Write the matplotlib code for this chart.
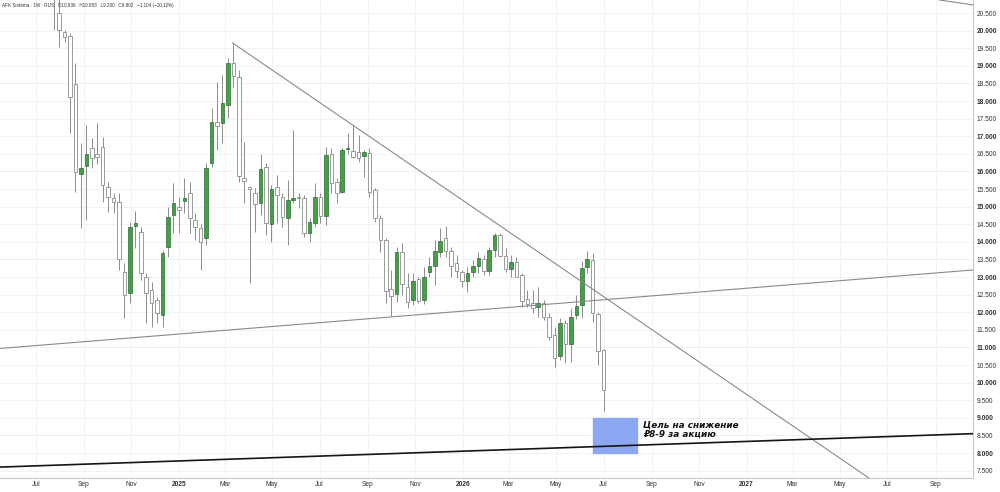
import matplotlib
matplotlib.use('Agg')
import matplotlib.pyplot as plt
import matplotlib.dates as mdates
from matplotlib.patches import Rectangle
import numpy as np
import pandas as pd

# weekly candles, AFK Sistema (1W)
first_week = '2024-07-24'
opens = [21.60, 20.49, 19.97, 19.85, 18.48, 15.93, 16.16, 16.67, 16.49, 16.70,
         15.57, 15.24, 15.14, 13.15, 12.54, 14.45, 14.28, 13.01, 12.63, 12.35,
         11.92, 13.86, 14.76, 14.99, 15.16, 15.39, 14.62, 14.38, 14.10, 16.23,
         17.41, 17.37, 17.89, 19.09, 18.69, 15.80, 15.57, 15.39, 15.09, 16.12,
         14.50, 15.57, 15.28, 14.67, 15.19, 15.28, 15.25, 14.26, 14.54, 15.28,
         14.73, 16.49, 15.71, 15.42, 16.63, 16.59, 16.56, 16.44, 16.51, 15.47,
         14.67, 14.05, 12.65, 12.52, 13.72, 12.71, 12.35, 12.93, 12.35, 13.15,
         13.31, 13.72, 14.10, 13.74, 13.41, 13.15, 12.90, 13.15, 13.31, 13.50,
         13.18, 13.77, 14.19, 13.60, 13.22, 13.43, 13.06, 12.37, 12.25, 12.14,
         12.27, 11.87, 11.35, 10.76, 11.68, 11.10, 11.92, 12.21, 13.29, 13.48,
         11.95, 10.936]
highs = [21.80, 21.20, 20.02, 19.93, 19.08, 16.81, 17.32, 16.95, 17.38, 16.99,
         15.71, 15.39, 15.39, 13.40, 14.57, 14.88, 14.43, 13.11, 12.87, 12.44,
         13.77, 15.00, 15.66, 15.28, 15.80, 15.71, 14.81, 14.52, 16.23, 17.79,
         18.55, 18.74, 19.21, 19.64, 18.88, 16.84, 15.59, 15.53, 16.49, 16.24,
         15.61, 15.90, 15.38, 15.76, 17.18, 15.38, 15.33, 14.67, 15.66, 15.38,
         16.70, 16.66, 15.80, 16.66, 17.08, 17.32, 17.03, 16.61, 16.66, 15.52,
         14.76, 14.10, 13.20, 13.86, 13.96, 13.11, 13.10, 13.01, 13.29, 13.58,
         14.05, 14.38, 14.45, 13.86, 13.62, 13.20, 13.29, 13.48, 13.72, 13.62,
         13.86, 14.24, 14.24, 13.82, 13.62, 13.58, 13.11, 12.63, 12.63, 12.72,
         12.35, 11.97, 11.59, 11.83, 11.78, 12.11, 12.50, 13.45, 13.73, 13.69,
         12.01, 10.953]
lows = [20.02, 19.53, 19.68, 17.09, 15.42, 14.39, 14.62, 16.10, 16.20, 15.14,
        14.86, 14.82, 13.20, 11.84, 12.26, 13.82, 12.92, 11.69, 11.59, 11.68,
        11.59, 13.58, 14.24, 14.24, 14.81, 14.24, 14.05, 13.20, 13.91, 16.13,
        16.61, 16.80, 17.51, 18.41, 15.70, 15.10, 12.82, 14.29, 14.76, 14.19,
        14.00, 14.53, 14.43, 13.91, 15.09, 14.95, 14.14, 14.00, 14.43, 14.53,
        14.48, 15.38, 15.09, 15.38, 16.50, 16.38, 16.28, 15.85, 15.28, 14.57,
        13.72, 12.25, 11.89, 12.30, 12.49, 12.11, 12.20, 12.25, 12.23, 13.01,
        12.77, 13.58, 13.58, 13.01, 12.96, 12.72, 12.58, 13.01, 13.11, 13.06,
        13.06, 13.58, 13.58, 13.15, 13.01, 13.01, 12.16, 12.16, 11.97, 11.87,
        11.78, 11.21, 10.45, 10.64, 10.55, 10.59, 11.80, 11.84, 13.10, 11.73,
        10.50, 9.200]
closes = [21.00, 20.02, 19.81, 18.12, 15.99, 16.09, 16.49, 16.39, 16.41, 15.61,
          15.28, 15.14, 13.50, 12.49, 14.43, 14.53, 13.11, 12.54, 12.25, 11.97,
          13.68, 14.71, 15.10, 14.90, 15.24, 14.67, 14.43, 14.00, 16.09, 17.41,
          17.29, 17.93, 19.09, 18.71, 15.87, 15.74, 15.49, 15.07, 16.06, 14.53,
          15.49, 15.33, 14.71, 15.19, 15.25, 15.25, 14.24, 14.57, 15.28, 14.73,
          16.47, 15.66, 15.40, 16.61, 16.66, 16.42, 16.37, 16.56, 15.42, 14.67,
          14.04, 12.61, 12.46, 13.71, 12.79, 12.30, 12.90, 12.32, 13.01, 13.31,
          13.75, 14.03, 13.75, 13.32, 13.18, 12.90, 13.12, 13.32, 13.53, 13.18,
          13.77, 14.19, 13.60, 13.22, 13.43, 13.01, 12.33, 12.23, 12.11, 12.27,
          11.86, 11.30, 10.69, 11.70, 11.10, 11.87, 12.18, 13.25, 13.50, 11.97,
          10.906, 9.802]

# bottom axis labels
tick_dates = ['2024-07-01', '2024-09-01', '2024-11-01', '2025-01-01', '2025-03-01',
              '2025-05-01', '2025-07-01', '2025-09-01', '2025-11-01', '2026-01-01',
              '2026-03-01', '2026-05-01', '2026-07-01', '2026-09-01', '2026-11-01',
              '2027-01-01', '2027-03-01', '2027-05-01', '2027-07-01', '2027-09-01']
tick_labels = ['Jul', 'Sep', 'Nov', '2025', 'Mar', 'May', 'Jul', 'Sep', 'Nov', '2026',
               'Mar', 'May', 'Jul', 'Sep', 'Nov', '2027', 'Mar', 'May', 'Jul', 'Sep']

# drawn lines (date, price anchors)
falling_dates = ['2025-03-11', '2027-06-25']
falling_prices = [19.65, 7.02]
support_dates = ['2024-05-16', '2027-10-19']
support_prices = [10.97, 13.20]
target_dates = ['2024-05-16', '2027-10-19']
target_prices = [7.60, 8.55]
corner_dates = ['2027-09-06', '2027-10-19']
corner_prices = [20.87, 20.73]

zone_dates = ['2026-06-18', '2026-08-13']
zone_prices = [8.0, 9.0]
zone_text = 'Цель на снижение\n₽8-9 за акцию'
title = 'AFK Sistema · 1W · RUS   O10.936   H10.953   L9.200   C9.802   −1.104 (−10.12%)'

plt.rcParams['font.family'] = ['Liberation Sans', 'DejaVu Sans']

fig = plt.figure(figsize=(10, 4.92), dpi=100)
ax = fig.add_axes([0, 14 / 492, 0.973, 478 / 492])

o = np.array(opens)
h = np.array(highs)
l = np.array(lows)
c = np.array(closes)
x = mdates.date2num(pd.date_range(first_week, periods=len(o), freq='7D'))
up = c >= o
bottom = np.minimum(o, c)
height = np.maximum(np.abs(c - o), 0.02)

ax.vlines(x, l, h, color='#8c8c8c', lw=0.7, zorder=2)
ax.bar(x[up], height[up], bottom=bottom[up], width=4.6, color='#43a047',
       edgecolor='#2e6b32', lw=0.5, zorder=3)
ax.bar(x[~up], height[~up], bottom=bottom[~up], width=4.6, color='white',
       edgecolor='#8c8c8c', lw=0.6, zorder=3)

d = lambda s: mdates.date2num(pd.to_datetime(s))
ax.plot(d(falling_dates), falling_prices, color='#8a8a8a', lw=0.8, zorder=4)
ax.plot(d(support_dates), support_prices, color='#8a8a8a', lw=0.8, zorder=4)
ax.plot(d(target_dates), target_prices, color='#151515', lw=1.2, zorder=4)
ax.plot(d(corner_dates), corner_prices, color='#8a8a8a', lw=0.8, zorder=4)

zx = d(zone_dates)
ax.add_patch(Rectangle((zx[0], zone_prices[0]), zx[1] - zx[0],
                       zone_prices[1] - zone_prices[0], color='#8ca8f2', zorder=3))
ax.text(d('2026-08-21'), 8.92, zone_text, fontsize=6.4, fontweight='bold',
        style='italic', va='top', ha='left', linespacing=0.95, color='#111',
        family=['DejaVu Sans'], zorder=5)

ax.set_xlim(d('2024-05-16'), d('2027-10-19'))
ax.set_ylim(7.29, 20.87)

yt = np.arange(7.5, 20.51, 0.5)
ax.yaxis.tick_right()
ax.set_yticks(yt)
ax.set_yticklabels([f'{v:.3f}' for v in yt])
for lab, v in zip(ax.get_yticklabels(), yt):
    if v == int(v):
        lab.set_fontweight('bold')
ax.set_xticks(d(tick_dates))
ax.set_xticklabels(tick_labels)
for lab in ax.get_xticklabels():
    if lab.get_text().isdigit():
        lab.set_fontweight('bold')
ax.tick_params(length=0, pad=2.5, labelsize=4.8, colors='#333333')
ax.grid(color='#eef0f5', lw=0.6, zorder=0)

for s in ['top', 'left']:
    ax.spines[s].set_visible(False)
for s in ['right', 'bottom']:
    ax.spines[s].set_color('#c8c8c8')
    ax.spines[s].set_linewidth(0.8)

fig.text(0.002, 1 - 6 / 492, title, fontsize=3.3, va='center', ha='left', color='#333333')

fig.savefig('out.png', dpi=100)
